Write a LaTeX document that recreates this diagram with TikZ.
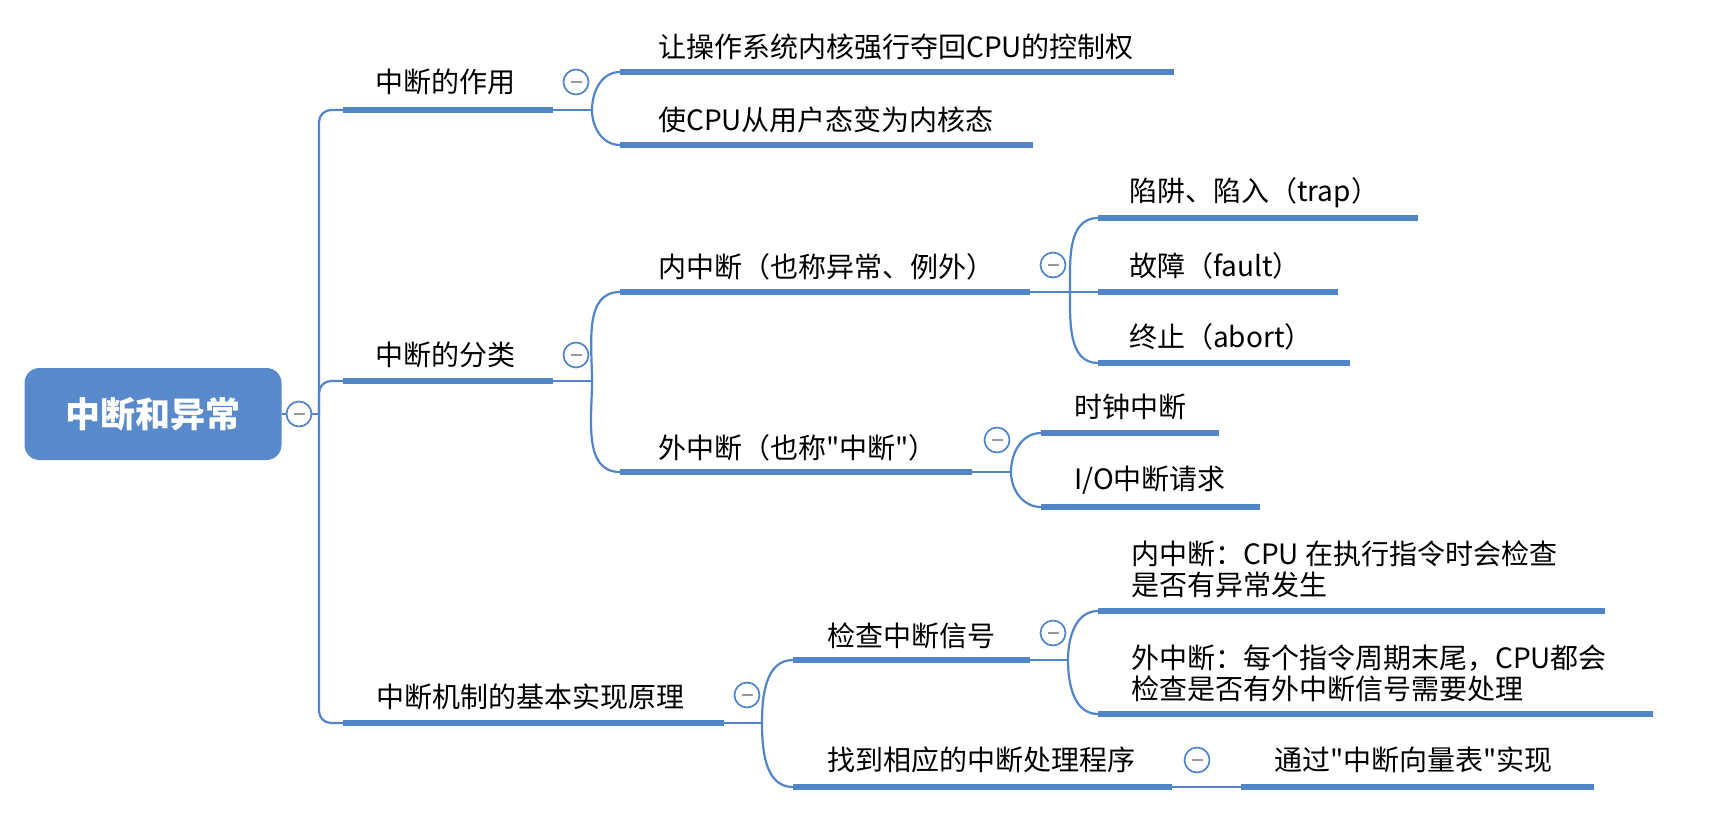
\documentclass[tikz,border=0pt]{standalone}
\usepackage{fontspec}
\setmainfont{Noto Sans CJK SC}[Ligatures=TeXOff]
\definecolor{lb}{RGB}{82,132,200}
\definecolor{rootc}{RGB}{88,137,202}
\newcommand\mytopic[7]{%
  \coordinate (#1L) at (#2,#4);
  \coordinate (#1R) at (#3,#4);
  \draw[uline] (#1L) -- (#1R);
  \node[topic] (#1) at (#5,#6) {#7};
}
\begin{document}
\begin{tikzpicture}[x=1pt,y=-1pt,
  uline/.style={line width=6pt, draw=lb},
  conn/.style={line width=2.2pt, draw=lb},
  topic/.style={inner sep=0pt, anchor=west, font=\fontsize{28}{31}\selectfont, text=black, align=left},
  toggle/.style={circle, draw=lb, line width=1.7pt, fill=white, minimum size=25pt, inner sep=0pt,
    path picture={\draw[gray!80, line width=2.6pt] ([xshift=-5.5pt]path picture bounding box.center) -- ([xshift=5.5pt]path picture bounding box.center);}},
  rootbox/.style={rounded corners=15pt, fill=rootc, minimum width=257pt, minimum height=92pt, inner sep=0pt,
    text=white, font=\fontsize{35}{40}\selectfont\bfseries}
]
\fill[white] (0,0) rectangle (1719,820);
\useasboundingbox (0,0) rectangle (1719,820);

% root
\node[rootbox] (root) at (153,414) {中断和异常};
\coordinate (trunk) at (319,414);
\draw[conn] (root.east) -- (trunk);

% level 1
\mytopic{zy}{343}{553}{110}{375}{82}{中断的作用}
\mytopic{fl}{343}{553}{381}{375}{355}{中断的分类}
\mytopic{jz}{343}{724}{723}{376}{697}{中断机制的基本实现原理}

\draw[conn, rounded corners=12pt] (trunk) |- (zyL);
\draw[conn, rounded corners=12pt] (trunk) |- (flL);
\draw[conn, rounded corners=12pt] (trunk) |- (jzL);

% level 2
\mytopic{qh}{620}{1174}{72}{658}{47}{让操作系统内核强行夺回CPU的控制权}
\mytopic{yh}{620}{1033}{145}{658}{120}{使CPU从用户态变为内核态}
\mytopic{nz}{620}{1030}{292}{658}{267}{内中断（也称异常、例外）}
\mytopic{wz}{620}{972}{472}{658}{448}{外中断（也称"中断"）}
\mytopic{jc}{793}{1030}{660}{827}{636}{检查中断信号}
\mytopic{zd}{793}{1172}{787}{827}{760}{找到相应的中断处理程序}

% level 3
\mytopic{tr}{1098}{1418}{218}{1129}{193}{陷阱、陷入（trap）}
\mytopic{fa}{1098}{1338}{292}{1129}{266}{故障（fault）}
\mytopic{ab}{1098}{1350}{363}{1129}{337}{终止（abort）}
\mytopic{sz}{1041}{1219}{433}{1074}{407}{时钟中断}
\mytopic{io}{1041}{1260}{507}{1074}{480}{I/O中断请求}
\mytopic{ni}{1098}{1605}{611}{1131}{569}{内中断：CPU 在执行指令时会检查\\是否有异常发生}
\mytopic{wi}{1098}{1653}{714}{1131}{673}{外中断：每个指令周期末尾，CPU都会\\检查是否有外中断信号需要处理}
\mytopic{xl}{1241}{1594}{787}{1274}{760}{通过"中断向量表"实现}

% branch points
\coordinate (zyB) at (592,110);
\coordinate (flB) at (592,381);
\coordinate (jzB) at (762,723);
\coordinate (nzB) at (1070,292);
\coordinate (wzB) at (1011,472);
\coordinate (jcB) at (1068,660);

\draw[conn] (zyR) -- (zyB);
\draw[conn] (zyB) to[out=90,in=180] (qhL);
\draw[conn] (zyB) to[out=-90,in=180] (yhL);

\draw[conn] (flR) -- (flB);
\draw[conn] (flB) to[out=90,in=180] (nzL);
\draw[conn] (flB) to[out=-90,in=180] (wzL);

\draw[conn] (jzR) -- (jzB);
\draw[conn] (jzB) to[out=90,in=180] (jcL);
\draw[conn] (jzB) to[out=-90,in=180] (zdL);

\draw[conn] (nzR) -- (nzB);
\draw[conn] (nzB) to[out=90,in=180] (trL);
\draw[conn] (nzB) -- (faL);
\draw[conn] (nzB) to[out=-90,in=180] (abL);

\draw[conn] (wzR) -- (wzB);
\draw[conn] (wzB) to[out=90,in=180] (szL);
\draw[conn] (wzB) to[out=-90,in=180] (ioL);

\draw[conn] (jcR) -- (jcB);
\draw[conn] (jcB) to[out=90,in=180] (niL);
\draw[conn] (jcB) to[out=-90,in=180] (wiL);

\draw[conn] (zdR) -- (xlL);

% toggles
\node[toggle] (t0) at (299,414) {};
\node[toggle] (t1) at (576,82) {};
\node[toggle] (t2) at (576,355) {};
\node[toggle] (t3) at (747,695) {};
\node[toggle] (t4) at (1053,265) {};
\node[toggle] (t5) at (997,440) {};
\node[toggle] (t6) at (1053,633) {};
\node[toggle] (t7) at (1197,760) {};
\end{tikzpicture}
\end{document}
